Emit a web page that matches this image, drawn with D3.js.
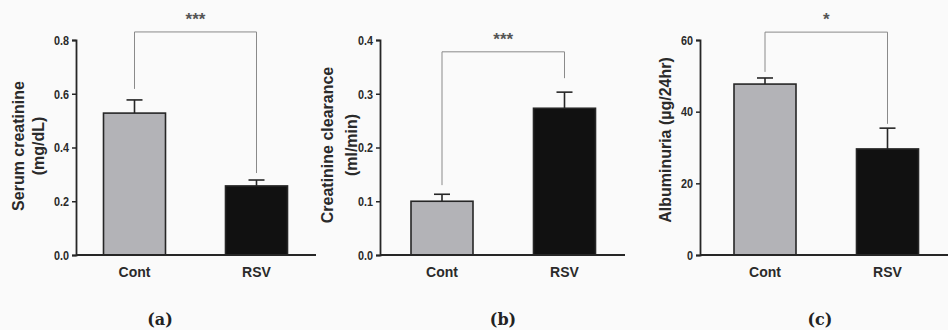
<!DOCTYPE html>
<html>
<head>
<meta charset="utf-8">
<script src="https://cdn.jsdelivr.net/npm/d3@7"></script>
<style>
  html, body { margin: 0; padding: 0; background: #fafafa; }
  svg { display: block; }
</style>
</head>
<body>
<svg id="chart" width="948" height="330"></svg>
<script>
// Group names shared by all three panels
const groups = ["Cont", "RSV"];

// (a) serum creatinine, mean and upper SEM
const creatMean = [0.528, 0.257];
const creatErr = [0.049, 0.022];
const creatTicks = [0, 0.2, 0.4, 0.6, 0.8];

// (b) creatinine clearance
const clearMean = [0.100, 0.273];
const clearErr = [0.013, 0.030];
const clearTicks = [0, 0.1, 0.2, 0.3, 0.4];

// (c) albuminuria
const albMean = [47.7, 29.6];
const albErr = [1.7, 5.8];
const albTicks = [0, 20, 40, 60];

// significance brackets: [top, left end, right end, star label]
const creatSig = [0.83, 0.618, 0.305, "***"];
const clearSig = [0.378, 0.130, 0.329, "***"];
const albSig = [62.2, 51.1, 36.6, "*"];

const panelTitles = ["(a)", "(b)", "(c)"];

const svg = d3.select("#chart");
const barColors = ["#b3b3b7", "#111111"];
const ink = "#262626";

const panels = [
  { x0: 76, x1: 316, c0: 58.5, c1: 180.5, max: 0.8, mean: creatMean, err: creatErr, ticks: creatTicks, fmt: d3.format(".1f"),
    sig: creatSig, label: ["Serum creatinine", "(mg/dL)"], lx: 18, lcy: 146, gap: 20, title: panelTitles[0], tx: 160 },
  { x0: 380, x1: 625, c0: 62, c1: 184.5, max: 0.4, mean: clearMean, err: clearErr, ticks: clearTicks, fmt: d3.format(".1f"),
    sig: clearSig, label: ["Creatinine clearance", "(ml/min)"], lx: 327, lcy: 145, gap: 24, title: panelTitles[1], tx: 503 },
  { x0: 700, x1: 948, c0: 65, c1: 187.5, max: 60, mean: albMean, err: albErr, ticks: albTicks, fmt: d3.format("d"),
    sig: albSig, label: ["Albuminuria (\u00b5g/24hr)"], lx: 665, lcy: 140, gap: 0, title: panelTitles[2], tx: 820 }
];

const yTop = 40, yBot = 255, barW = 62;
const tickLen = 4, tickPad = 3, narrow = 0.8;

panels.forEach(p => {
  const y = d3.scaleLinear().domain([0, p.max]).range([yBot, yTop]);
  const x = d3.scalePoint().domain(groups).range([p.x0 + p.c0, p.x0 + p.c1]);
  const g = svg.append("g");

  // bars with upper error bars
  groups.forEach((k, i) => {
    const cx = x(k);
    const eTop = y(p.mean[i] + p.err[i]);
    g.append("line").attr("x1", cx).attr("x2", cx)
      .attr("y1", y(p.mean[i])).attr("y2", eTop)
      .attr("stroke", ink).attr("stroke-width", 1.6);
    g.append("line").attr("x1", cx - 8).attr("x2", cx + 8)
      .attr("y1", eTop).attr("y2", eTop)
      .attr("stroke", ink).attr("stroke-width", 1.6);
    g.append("rect")
      .attr("x", cx - barW / 2).attr("width", barW)
      .attr("y", y(p.mean[i])).attr("height", y(0) - y(p.mean[i]))
      .attr("fill", barColors[i])
      .attr("stroke", ink).attr("stroke-width", 1.6);
  });

  // y axis with condensed bold tick labels
  const axis = d3.axisLeft(y).tickValues(p.ticks).tickFormat(p.fmt).tickSize(tickLen).tickPadding(tickPad);
  const ya = g.append("g").attr("transform", `translate(${p.x0},0)`).call(axis);
  ya.select(".domain").attr("stroke", ink).attr("stroke-width", 1.8);
  ya.selectAll(".tick line").attr("stroke", ink).attr("stroke-width", 1.5);
  ya.selectAll(".tick text")
    .attr("font-family", "'Liberation Sans', Arial, sans-serif")
    .attr("font-weight", "bold").attr("font-size", 13.5)
    .attr("fill", "#2a2a2a")
    .attr("x", -(tickLen + tickPad) / narrow)
    .attr("transform", `scale(${narrow},1)`);

  // x axis baseline
  g.append("line").attr("x1", p.x0).attr("x2", p.x1)
    .attr("y1", yBot).attr("y2", yBot)
    .attr("stroke", ink).attr("stroke-width", 1.8);

  // group labels
  groups.forEach(k => {
    g.append("text").attr("x", x(k)).attr("y", 277)
      .attr("text-anchor", "middle")
      .attr("font-family", "'Liberation Sans', Arial, sans-serif")
      .attr("font-weight", "bold").attr("font-size", 14)
      .attr("fill", "#2a2a2a").text(k);
  });

  // significance bracket
  const [sTop, sL, sR, stars] = p.sig;
  const xl = x(groups[0]), xr = x(groups[1]);
  g.append("path")
    .attr("d", `M${xl},${y(sL)}V${y(sTop)}H${xr}V${y(sR)}`)
    .attr("fill", "none").attr("stroke", "#8a8a8a").attr("stroke-width", 1);
  g.append("text").attr("x", (xl + xr) / 2).attr("y", y(sTop) - 7)
    .attr("text-anchor", "middle")
    .attr("font-family", "'Liberation Sans', Arial, sans-serif")
    .attr("font-weight", "bold").attr("font-size", 17)
    .attr("fill", "#555").text(stars);

  // y axis title
  const t = g.append("text")
    .attr("transform", `translate(${p.lx},${p.lcy}) rotate(-90)`)
    .attr("text-anchor", "middle")
    .attr("font-family", "'Liberation Sans', Arial, sans-serif")
    .attr("font-weight", "bold").attr("font-size", 16)
    .attr("fill", "#2a2a2a");
  p.label.forEach((line, i) => {
    t.append("tspan").attr("x", 0).attr("dy", i === 0 ? 6 : p.gap).text(line);
  });

  // panel title
  g.append("text").attr("x", p.tx).attr("y", 325)
    .attr("text-anchor", "middle")
    .attr("font-family", "'DejaVu Serif', 'Liberation Serif', serif")
    .attr("font-weight", "bold").attr("font-size", 16)
    .attr("fill", "#222").text(p.title);
});
</script>
</body>
</html>
